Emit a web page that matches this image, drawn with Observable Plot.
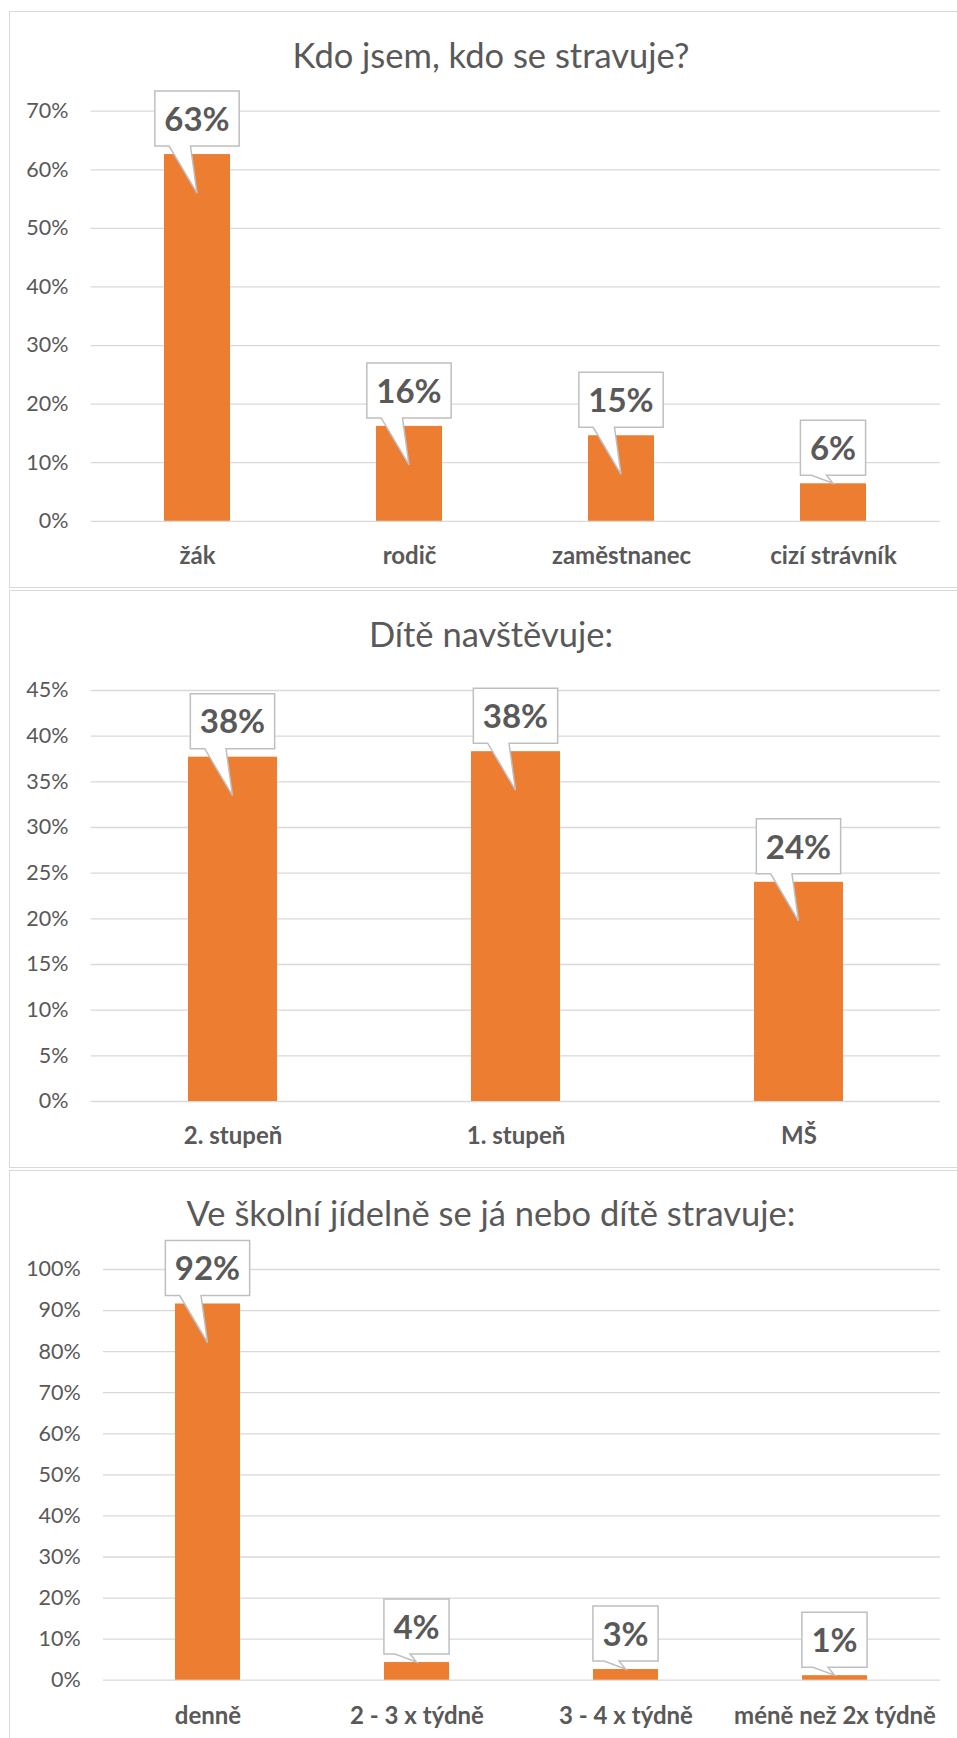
<!DOCTYPE html>
<html lang="cs">
<head>
<meta charset="utf-8">
<script src="https://cdn.jsdelivr.net/npm/d3@7"></script>
<script src="https://cdn.jsdelivr.net/npm/@observablehq/plot@0.6"></script>
<style>
  html, body { margin: 0; padding: 0; background: #fff; }
  body { position: relative; width: 957px; height: 1738px; overflow: hidden; }
  .box { position: absolute; left: 9px; width: 1000px; border: 1.5px solid #d9d9d9; box-sizing: border-box; }
  .title { position: absolute; left: 10px; width: 962px; text-align: center; font-family: Lato, "Open Sans", sans-serif;
           font-size: 34.5px; line-height: 41.4px; color: #595959; white-space: nowrap; }
  svg.chart { position: absolute; left: 0; }
</style>
</head>
<body>
<script>
// ---------- data ----------
const titles = ["Kdo jsem, kdo se stravuje?", "Dítě navštěvuje:", "Ve školní jídelně se já nebo dítě stravuje:"];

const cats1 = ["žák", "rodič", "zaměstnanec", "cizí strávník"];
const vals1 = [0.626, 0.162, 0.146, 0.064];
const ticks1 = [0, 0.1, 0.2, 0.3, 0.4, 0.5, 0.6, 0.7];

const cats2 = ["2. stupeň", "1. stupeň", "MŠ"];
const vals2 = [0.377, 0.383, 0.240];
const ticks2 = [0, 0.05, 0.1, 0.15, 0.2, 0.25, 0.3, 0.35, 0.4, 0.45];

const cats3 = ["denně", "2 - 3 x týdně", "3 - 4 x týdně", "méně než 2x týdně"];
const vals3 = [0.916, 0.043, 0.026, 0.011];
const ticks3 = [0, 0.1, 0.2, 0.3, 0.4, 0.5, 0.6, 0.7, 0.8, 0.9, 1.0];

// ---------- style ----------
const FONT = 'Lato, "Open Sans", sans-serif';
const TEXT = "#595959";
const GRID = "#d9d9d9";
const BAR = "#ED7D31";
const fmt = d3.format(".0%");
const LABEL_SIZE = 33;

function measure(text, font) {
  const ctx = measure.ctx || (measure.ctx = document.createElement("canvas").getContext("2d"));
  ctx.font = font;
  return ctx.measureText(text).width;
}

function callouts(cats, vals) {
  return (index, scales) => {
    const x = scales.x, y = scales.y;
    const bw = x.bandwidth();
    const g = d3.create("svg:g").attr("aria-label", "callouts");
    cats.forEach((c, i) => {
      const v = vals[i];
      const cx = x(c) + bw / 2, top = y(v), base = y(0);
      const label = fmt(v);
      const tw = measure(label, `bold ${LABEL_SIZE}px ${FONT}`);
      const w = tw + 19, h = 55;
      const bb = top - 8, bt = bb - h, bl = cx - w / 2, br = cx + w / 2;
      const tipY = base - top > 50 ? top + 39 : top;
      const pl = bl + 0.17 * w, pr = cx - 6.5;
      g.append("path")
        .attr("d", `M${bl},${bt}H${br}V${bb}H${pr}L${cx},${tipY}L${pl},${bb}H${bl}Z`)
        .attr("fill", "#fff").attr("stroke", "#bfbfbf").attr("stroke-width", 1.5)
        .attr("stroke-linejoin", "miter");
      g.append("text")
        .attr("x", cx).attr("y", (bt + bb) / 2).attr("dy", "0.37em")
        .attr("text-anchor", "middle")
        .attr("font-family", FONT).attr("font-weight", "bold").attr("font-size", LABEL_SIZE)
        .attr("fill", TEXT)
        .text(label);
    });
    return g.node();
  };
}

function chart(cfg) {
  const data = cfg.cats.map((c, i) => ({cat: c, value: cfg.vals[i]}));
  const svg = Plot.plot({
    width: 957,
    height: cfg.height,
    marginTop: cfg.marginTop,
    marginBottom: cfg.marginBottom,
    marginLeft: cfg.marginLeft,
    marginRight: 17,
    style: {fontFamily: FONT, fontSize: "21.5px", color: TEXT, background: "transparent", overflow: "visible"},
    x: {domain: cfg.cats, paddingInner: 0.687, paddingOuter: 0.3435, axis: null},
    y: {domain: [0, cfg.ticks[cfg.ticks.length - 1]], axis: null},
    marks: [
      Plot.ruleY(cfg.ticks, {stroke: GRID, strokeWidth: 1.3}),
      Plot.barY(data, {x: "cat", y: "value", fill: BAR}),
      Plot.axisY({ticks: cfg.ticks, tickFormat: fmt, tickSize: 0, tickPadding: 22.7, fontSize: 21.5, label: null, fill: TEXT}),
      Plot.axisX({tickSize: 0, tickPadding: cfg.xPad, fontSize: 24, fontWeight: "bold", label: null, fill: TEXT}),
      callouts(cfg.cats, cfg.vals)
    ]
  });
  svg.classList.add("chart");
  svg.style.top = cfg.top + "px";
  return svg;
}

const layout = [
  {top: 12, height: 575, marginTop: 98.7, marginBottom: 66.2, marginLeft: 90.7, xPad: 25.5, titleTop: 34.3, cats: cats1, vals: vals1, ticks: ticks1},
  {top: 591, height: 576, marginTop: 99, marginBottom: 66, marginLeft: 90.7, xPad: 25.5, titleTop: 612.6, cats: cats2, vals: vals2, ticks: ticks2},
  {top: 1171, height: 567, marginTop: 98, marginBottom: 58.3, marginLeft: 103, xPad: 26.5, titleTop: 1191.7, cats: cats3, vals: vals3, ticks: ticks3}
];

layout.forEach((cfg, i) => {
  const box = document.createElement("div");
  box.className = "box";
  box.style.top = (cfg.top - 0.75) + "px";
  box.style.height = (i === 2 ? 700 : cfg.height + 1.5) + "px";
  document.body.appendChild(box);

  const t = document.createElement("div");
  t.className = "title";
  t.style.top = cfg.titleTop + "px";
  t.textContent = titles[i];
  document.body.appendChild(t);

  document.body.appendChild(chart(cfg));
});
</script>
</body>
</html>
